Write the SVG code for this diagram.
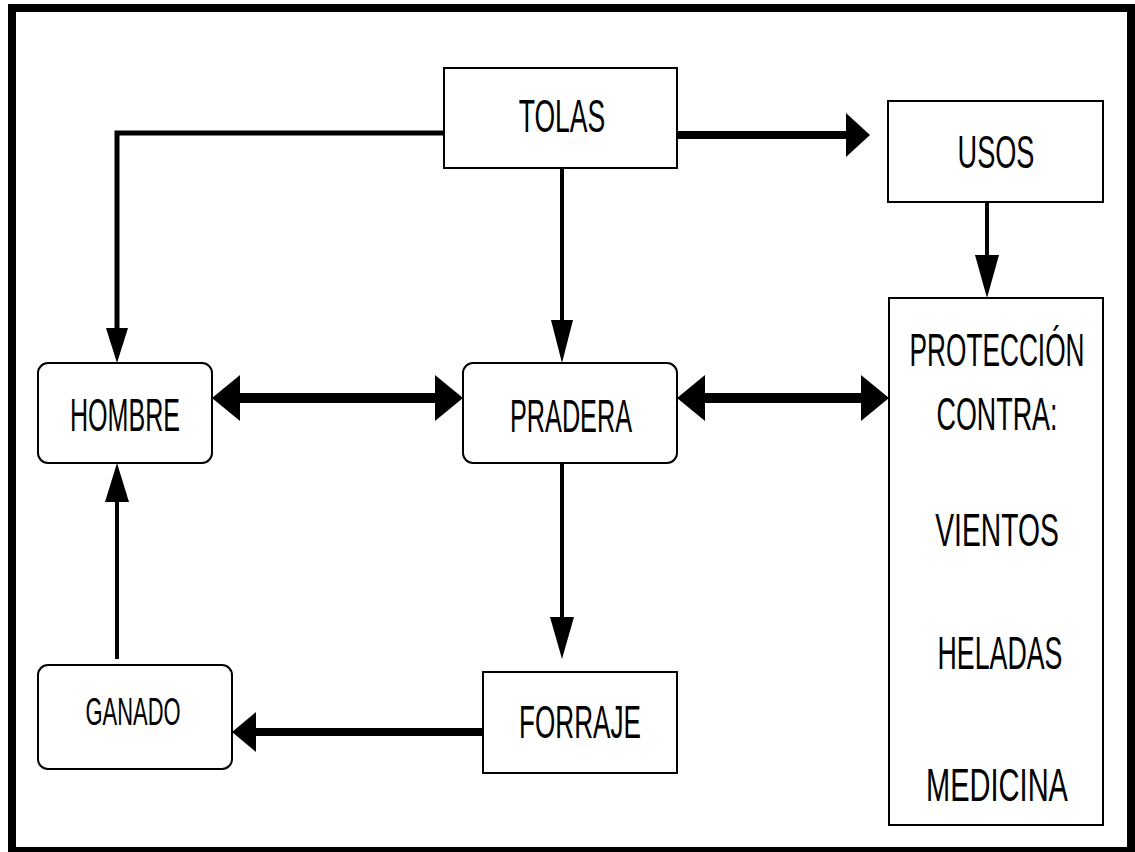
<svg xmlns="http://www.w3.org/2000/svg" width="1135" height="852" viewBox="0 0 1135 852">
<style>
.box{fill:#fff;stroke:#000;stroke-width:2}
.lbl{font-family:"Liberation Sans",Arial,sans-serif;font-size:46px;fill:#000;text-anchor:middle}
.sm{font-size:38px}
.ln{stroke:#000;fill:none}
.hd{fill:#000;stroke:none}
</style>
<rect x="0" y="0" width="1135" height="852" fill="#fff"/>
<rect x="12" y="8" width="1119" height="843" fill="none" stroke="#000" stroke-width="8"/>
<g id="connectors">
  <polyline class="ln" points="444,133 117,133 117,330" stroke-width="5"/>
  <polygon class="hd" points="106,328 128,328 117,363"/>
  <line class="ln" x1="677" y1="135" x2="850" y2="135" stroke-width="8"/>
  <polygon class="hd" points="846,113 846,157 870,135"/>
  <line class="ln" x1="562" y1="168" x2="562" y2="325" stroke-width="4"/>
  <polygon class="hd" points="551,320 573,320 562,363"/>
  <line class="ln" x1="987" y1="202" x2="987" y2="260" stroke-width="4"/>
  <polygon class="hd" points="975,255 999,255 987,298"/>
  <line class="ln" x1="235" y1="398" x2="440" y2="398" stroke-width="10"/>
  <polygon class="hd" points="212,398 240,375 240,421"/>
  <polygon class="hd" points="463,398 435,375 435,421"/>
  <line class="ln" x1="700" y1="398" x2="866" y2="398" stroke-width="10"/>
  <polygon class="hd" points="677,398 705,375 705,421"/>
  <polygon class="hd" points="889,398 861,375 861,421"/>
  <line class="ln" x1="562" y1="463" x2="562" y2="622" stroke-width="4"/>
  <polygon class="hd" points="550,617 574,617 562,659"/>
  <line class="ln" x1="483" y1="732" x2="252" y2="732" stroke-width="8"/>
  <polygon class="hd" points="232,732 256,712 256,752"/>
  <line class="ln" x1="117" y1="659" x2="117" y2="500" stroke-width="4"/>
  <polygon class="hd" points="105,502 129,502 117,463"/>
</g>
<g id="tolas">
  <rect class="box" x="444" y="68" width="233" height="100"/>
  <text class="lbl" transform="translate(562,132) scale(0.577,1)">TOLAS</text>
</g>
<g id="usos">
  <rect class="box" x="888" y="101" width="215" height="101"/>
  <text class="lbl" transform="translate(996,168) scale(0.59,1)">USOS</text>
</g>
<g id="hombre">
  <rect class="box" x="38" y="363" width="174" height="100" rx="10"/>
  <text class="lbl" transform="translate(125,431) scale(0.545,1)">HOMBRE</text>
</g>
<g id="pradera">
  <rect class="box" x="463" y="363" width="214" height="100" rx="10"/>
  <text class="lbl" transform="translate(571,432) scale(0.549,1)">PRADERA</text>
</g>
<g id="proteccion">
  <rect class="box" x="889" y="298" width="214" height="527"/>
  <text class="lbl" transform="translate(997,366) scale(0.571,1)">PROTECCIÓN</text>
  <text class="lbl" transform="translate(997,430) scale(0.585,1)">CONTRA:</text>
  <text class="lbl" transform="translate(997,546) scale(0.614,1)">VIENTOS</text>
  <text class="lbl" transform="translate(1000,669) scale(0.582,1)">HELADAS</text>
  <text class="lbl" transform="translate(997,801) scale(0.631,1)">MEDICINA</text>
</g>
<g id="ganado">
  <rect class="box" x="38" y="665" width="194" height="104" rx="10"/>
  <text class="lbl sm" transform="translate(133,725) scale(0.577,1)">GANADO</text>
</g>
<g id="forraje">
  <rect class="box" x="483" y="672" width="194" height="101"/>
  <text class="lbl" transform="translate(580,738) scale(0.568,1)">FORRAJE</text>
</g>
</svg>
